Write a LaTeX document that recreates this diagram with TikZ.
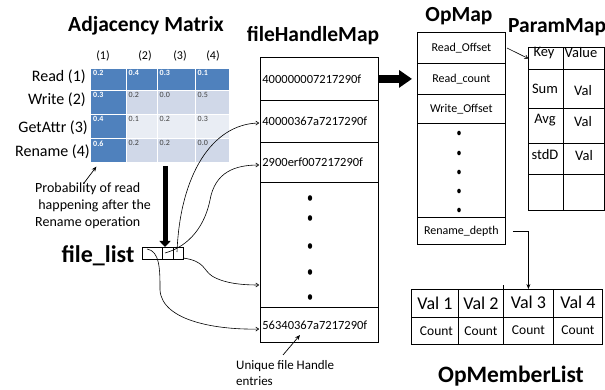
\documentclass[tikz,border=0pt]{standalone}
\usepackage{fontspec}
\setmainfont{Carlito}
\usetikzlibrary{arrows.meta,calc}
\definecolor{dk}{HTML}{4F81BD}
\definecolor{lt}{HTML}{D0D8E8}
\definecolor{ltb}{HTML}{E9EDF4}
\definecolor{vgray}{HTML}{404040}
\newcommand\fsz[2]{\fontsize{#1}{#2}\selectfont}
\newcommand\mcell[8]{%
  \node[mcellbox, fill=#6, minimum width=#4pt, minimum height=#5pt] (#1) at (#2,#3) {};
  \node[#8] at (#1.north west) {#7};}
\begin{document}
\begin{tikzpicture}[x=1pt,y=-1pt,
  mcellbox/.style={draw=white, line width=1.4pt, inner sep=0pt, anchor=north west},
  dv/.style={anchor=north west, font=\bfseries\fsz{8}{9}, text=white, inner xsep=3pt, inner ysep=2.5pt},
  lv/.style={anchor=north west, font=\fsz{8}{9}, text=vgray, inner xsep=3pt, inner ysep=2.5pt},
  box/.style={draw, line width=0.8pt, inner sep=0pt, anchor=north west},
  title/.style={font=\bfseries\fsz{21.5}{24}, inner sep=0pt, anchor=base},
  lbl/.style={inner sep=0pt},
  conn/.style={line width=0.6pt, -{To[length=3.5pt,width=4.5pt]}},
  pconn/.style={line width=0.7pt, -{Stealth[length=5pt,width=4pt]}},
  bigv/.style={line width=5pt, -{Triangle[length=6pt,width=11pt]}},
  bigh/.style={line width=8pt, -{Triangle[length=13pt,width=17pt]}},
  dot/.style={fill=black}
]
\useasboundingbox (0,0) rectangle (605,390);

% ---------------- Adjacency matrix ----------------
\node[title] (tadj) at (146,32) {Adjacency Matrix};
\foreach \lab/\xx in {(1)/103,(2)/145,(3)/180,(4)/213}
  \node[lbl, font=\fsz{12}{14}] at (\xx,56) {\lab};
\node[lbl, anchor=east, font=\fsz{16}{18}] (rr1) at (86,77) {Read (1)};
\node[lbl, anchor=east, font=\fsz{16}{18}] (rr2) at (86,100) {Write (2)};
\node[lbl, anchor=east, font=\fsz{16}{18}] (rr3) at (88,128) {GetAttr (3)};
\node[lbl, anchor=east, font=\fsz{16}{18}] (rr4) at (90,152) {Rename (4)};

\mcell{c11}{90}{68}{35.5}{22}{dk}{0.2}{dv}
\mcell{c12}{125.5}{68}{31}{22}{dk}{0.4}{dv}
\mcell{c13}{156.5}{68}{38}{22}{dk}{0.3}{dv}
\mcell{c14}{194.5}{68}{34.5}{22}{dk}{0.1}{dv}
\mcell{c21}{90}{90}{35.5}{24}{dk}{0.3}{dv}
\mcell{c22}{125.5}{90}{31}{24}{lt}{0.2}{lv}
\mcell{c23}{156.5}{90}{38}{24}{lt}{0.0}{lv}
\mcell{c24}{194.5}{90}{34.5}{24}{lt}{0.5}{lv}
\mcell{c31}{90}{114}{35.5}{24}{dk}{0.4}{dv}
\mcell{c32}{125.5}{114}{31}{24}{ltb}{0.1}{lv}
\mcell{c33}{156.5}{114}{38}{24}{ltb}{0.2}{lv}
\mcell{c34}{194.5}{114}{34.5}{24}{ltb}{0.3}{lv}
\mcell{c41}{90}{138}{35.5}{24}{dk}{0.6}{dv}
\mcell{c42}{125.5}{138}{31}{24}{lt}{0.2}{lv}
\mcell{c43}{156.5}{138}{38}{24}{lt}{0.2}{lv}
\mcell{c44}{194.5}{138}{34.5}{24}{lt}{0.0}{lv}

\node[lbl, anchor=north west, align=left, font=\fsz{14}{17}] (prob) at (35,183)
  {Probability of read\\\ happening after the\\Rename operation};
\coordinate (pa) at (84,183);
\draw[pconn, shorten >=4pt] (pa) -- (c41);

% ---------------- file_list ----------------
\node[title, font=\bfseries\fsz{24}{26}] (tfl) at (98,262) {file\_list};
\node[box, minimum width=20pt, minimum height=12pt] (fl1) at (142,247) {};
\node[box, minimum width=11pt, minimum height=12pt] (fl2) at (162,247) {};
\node[box, minimum width=10pt, minimum height=12pt] (fl3) at (173,247) {};
\coordinate (thk) at (165,166);
\draw[bigv] (thk) -- (thk |- fl2.north);

% ---------------- fileHandleMap ----------------
\node[title] (tfh) at (313,42) {fileHandleMap};
\tikzset{hrow/.style={box, minimum width=118pt, text width=114pt, inner xsep=2pt, align=left, font=\fsz{12.5}{14}}}
\node[hrow, minimum height=43pt] (h1) at (260,57) {400000007217290f};
\node[hrow, minimum height=42pt] (h2) at (260,100) {40000367a7217290f};
\node[hrow, minimum height=40pt] (h3) at (260,142) {2900erf007217290f};
\node[hrow, minimum height=125pt] (h4) at (260,182) {};
\node[hrow, minimum height=35pt] (h5) at (260,307) {56340367a7217290f};
\foreach \yy in {198,218,246,272,297}
  \fill[dot] (310,\yy) ellipse (2.2pt and 2.8pt);

% connectors from file_list
\coordinate (sA) at (177,252);
\coordinate (sB) at (165,253);
\coordinate (sC) at (183,258);
\coordinate (sD) at (147,249);
\coordinate (eA) at (259,123);
\coordinate (eB) at (259,165);
\coordinate (eC) at (259,285);
\coordinate (eD) at (259,329);
\draw[conn] (sA) .. controls (180,175) and (212,124) .. (eA);
\draw[conn] (sB) .. controls (190,246) and (205,225) .. (210,200) .. controls (215,172) and (235,165) .. (eB);
\draw[conn] (sC) .. controls (205,261) and (203,270) .. (212,276) .. controls (225,284) and (245,285) .. (eC);
\draw[conn] (sD) .. controls (160,251) and (160,270) .. (160,290) .. controls (162,322) and (220,330) .. (eD);

% Unique file handle note
\node[lbl, anchor=north west, align=left, font=\fsz{13}{16}] (uniq) at (236,360) {Unique file Handle\\entries};
\coordinate (ua) at (283,355);
\coordinate (ub) at (300,335);
\draw[pconn] (ua) -- (ub);

% big arrow to OpMap
\draw[bigh, shorten >=5pt] (h1.east) -- (h1.east -| 417,0);

% ---------------- OpMap ----------------
\node[title] (top) at (459,22) {OpMap};
\tikzset{orow/.style={box, minimum width=88pt, font=\fsz{12}{14}}}
\node[orow, minimum height=31pt] (op1) at (417,32) {Read\_Offset};
\node[orow, minimum height=31pt] (op2) at (417,63) {Read\_count};
\node[orow, minimum height=29pt] (op3) at (417,94) {Write\_Offset};
\node[orow, minimum height=94pt] (op4) at (417,123) {};
\node[orow, minimum height=27pt] (op5) at (417,217) {Rename\_depth};
\foreach \yy in {133,153,172,191,210}
  \fill[dot] (459,\yy) ellipse (1.8pt and 2.3pt);

% ---------------- ParamMap ----------------
\node[title, anchor=base west] (tpm) at (508,33) {ParamMap};
\tikzset{pcell/.style={box, minimum width=#1pt}}
\node[pcell=35, minimum height=22pt] (pk) at (528,47) {};
\node[pcell=41, minimum height=22pt] (pv) at (563,47) {};
\node[pcell=35, minimum height=39pt] (p1k) at (528,69) {};
\node[pcell=41, minimum height=39pt] (p1v) at (563,69) {};
\node[pcell=35, minimum height=35pt] (p2k) at (528,108) {};
\node[pcell=41, minimum height=35pt] (p2v) at (563,108) {};
\node[pcell=35, minimum height=31pt] (p3k) at (528,143) {};
\node[pcell=41, minimum height=31pt] (p3v) at (563,143) {};
\node[pcell=35, minimum height=36pt] (p4k) at (528,174) {};
\node[pcell=41, minimum height=36pt] (p4v) at (563,174) {};
\tikzset{ptxt/.style={lbl, font=\fsz{14.5}{16}}}
\node[ptxt] at (544,53) {Key};
\node[ptxt] at (581,53) {Value};
\node[ptxt] at (545,89) {Sum};
\node[ptxt] at (583,91) {Val};
\node[ptxt] at (545,120) {Avg};
\node[ptxt] at (583,122) {Val};
\node[ptxt] at (545,155) {stdD};
\node[ptxt] at (584,156) {Val};
\coordinate (ro) at (507,48);
\draw[conn] (ro) -- (pk.west);

% ---------------- OpMemberList ----------------
\tikzset{mcol/.style={box, minimum width=#1pt}, vtxt/.style={font=\fsz{18}{20}}, ctxt/.style={font=\fsz{13.5}{15}}}
\node[mcol=47, minimum height=28pt, vtxt] (m11) at (411,289) {Val 1};
\node[mcol=45, minimum height=28pt, vtxt] (m12) at (458,289) {Val 2};
\node[mcol=50, minimum height=28pt, vtxt] (m13) at (503,289) {\raisebox{2pt}{Val 3}};
\node[mcol=49, minimum height=28pt, vtxt] (m14) at (553,289) {\raisebox{3pt}{Val 4}};
\node[mcol=47, minimum height=27pt, ctxt] (m21) at (411,317) {\hspace*{3pt}\raisebox{-1pt}{Count}};
\node[mcol=45, minimum height=27pt, ctxt] (m22) at (458,317) {\raisebox{-1pt}{Count}};
\node[mcol=50, minimum height=27pt, ctxt] (m23) at (503,317) {\raisebox{2pt}{Count}};
\node[mcol=49, minimum height=27pt, ctxt] (m24) at (553,317) {\raisebox{2pt}{Count}};
\draw[line width=0.8pt] (m13.north west) -- ++(0,-4);
\node[title, font=\bfseries\fsz{23.5}{26}] (tom) at (511,382) {OpMemberList};

\coordinate (rd) at ([xshift=7pt]op5.east);
\draw[pconn] (rd) -| (m13.north);
\end{tikzpicture}
\end{document}
